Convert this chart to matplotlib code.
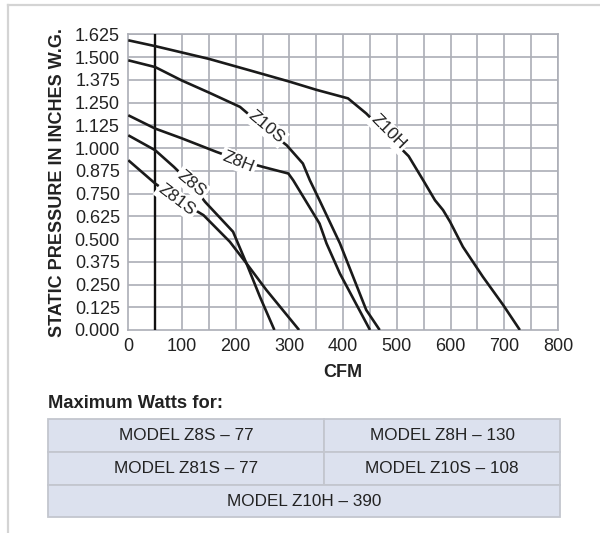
import matplotlib
matplotlib.use('Agg')
import matplotlib.pyplot as plt
from matplotlib.patches import Rectangle
from matplotlib.lines import Line2D
import numpy as np

plt.rcParams['font.family'] = ['Liberation Sans', 'DejaVu Sans']

# fan curves: CFM vs static pressure (in. W.G.)
z10h_cfm = [0, 50, 100, 150, 226, 300, 350, 409, 443, 480, 522, 549, 571, 586, 599, 623, 660, 698, 729]
z10h_sp = [1.592, 1.56, 1.525, 1.49, 1.427, 1.365, 1.32, 1.273, 1.19, 1.08, 0.955, 0.823, 0.713, 0.659,
           0.595, 0.457, 0.293, 0.137, 0.0]

z10s_cfm = [0, 50, 99, 150, 208, 250, 295, 325, 338, 356, 394, 443, 468]
z10s_sp = [1.482, 1.445, 1.372, 1.305, 1.226, 1.12, 1.015, 0.915, 0.823, 0.713, 0.476, 0.11, 0.0]

z8h_cfm = [0, 50, 99, 164, 210, 251, 298, 307, 356, 369, 394, 450]
z8h_sp = [1.18, 1.107, 1.054, 0.979, 0.93, 0.896, 0.86, 0.823, 0.585, 0.476, 0.31, 0.0]

z8s_cfm = [0, 50, 85, 118, 143, 195, 220, 245, 272]
z8s_sp = [1.07, 0.988, 0.896, 0.8, 0.704, 0.54, 0.366, 0.183, 0.0]

z81s_cfm = [0, 50, 90, 140, 189, 220, 257, 318]
z81s_sp = [0.933, 0.805, 0.72, 0.631, 0.485, 0.366, 0.22, 0.0]

curve_names = ['Z10H', 'Z10S', 'Z8H', 'Z8S', 'Z81S']
label_cfm = [484, 257, 205, 118, 90]
label_sp = [1.088, 1.116, 0.924, 0.805, 0.713]
label_rot = [-45, -40, -22, -40, -37]

y_ticks = np.arange(0, 1.626, 0.125)
x_ticks = list(range(0, 801, 100))

watts_rows = [['MODEL Z8S – 77', 'MODEL Z8H – 130'],
              ['MODEL Z81S – 77', 'MODEL Z10S – 108'],
              ['MODEL Z10H – 390']]

W, H = 600, 533
fig = plt.figure(figsize=(W / 100, H / 100), dpi=100)


def fx(px):
    return px / W


def fy(py):
    return 1 - py / H


# card border (top and left)
fig.add_artist(Line2D([fx(8), fx(600)], [fy(5), fy(5)], color='#d4d4d4', lw=1.6))
fig.add_artist(Line2D([fx(8), fx(8)], [fy(5), fy(533)], color='#d4d4d4', lw=1.6))

ax = fig.add_axes([fx(128.3), fy(330), fx(558) - fx(128.3), fy(34.3) - fy(330)])
ax.set_xlim(0, 800)
ax.set_ylim(0, 1.625)

grid_col = '#acaeb6'
for x in range(50, 801, 50):
    ax.axvline(x, color=grid_col, lw=1.2, zorder=1)
for y in y_ticks[1:]:
    ax.axhline(y, color=grid_col, lw=1.2, zorder=1)
for s in ax.spines.values():
    s.set_color(grid_col)
    s.set_linewidth(1.2)

ax.axvline(50, color='#111111', lw=1.7, zorder=3)

curves = [(z10h_cfm, z10h_sp), (z10s_cfm, z10s_sp), (z8h_cfm, z8h_sp),
          (z8s_cfm, z8s_sp), (z81s_cfm, z81s_sp)]
for cx, cy in curves:
    ax.plot(cx, cy, color='#1a1a1a', lw=1.9, zorder=4, solid_capstyle='butt')

for name, lx, ly, rot in zip(curve_names, label_cfm, label_sp, label_rot):
    ax.text(lx, ly, name, rotation=rot, ha='center', va='center', fontsize=12.5,
            color='#222222', zorder=5, rotation_mode='anchor',
            bbox=dict(facecolor='white', edgecolor='none', pad=1.5))

ax.set_xticks(x_ticks)
ax.set_yticks(y_ticks)
ax.set_yticklabels([f'{v:.3f}' for v in y_ticks])
ax.tick_params(length=0, labelsize=13, colors='#222222', pad=6)
ax.set_xlabel('CFM', fontsize=13, fontweight='bold', color='#222222', labelpad=6)
ax.set_ylabel('STATIC PRESSURE IN INCHES W.G.', fontsize=13, fontweight='bold',
              color='#222222', labelpad=6)

# max watts table
fig.text(fx(48), fy(404), 'Maximum Watts for:', fontsize=13.2, fontweight='bold',
         color='#222222', va='center', ha='left')

tbl_left, tbl_right, tbl_split = 48, 560, 324
row_edges = [419.3, 451.7, 485, 517.3]
fill = '#dce1ee'
edge = '#c3c6ce'
for r, row in enumerate(watts_rows):
    top, bot = row_edges[r], row_edges[r + 1]
    if len(row) == 2:
        spans = [(tbl_left, tbl_split), (tbl_split, tbl_right)]
    else:
        spans = [(tbl_left, tbl_right)]
    for (a, b), txt in zip(spans, row):
        fig.add_artist(Rectangle((fx(a), fy(bot)), fx(b) - fx(a), fy(top) - fy(bot),
                                 facecolor=fill, edgecolor=edge, lw=1.3))
        fig.text(fx((a + b) / 2), fy((top + bot) / 2), txt, fontsize=12.3,
                 color='#222222', ha='center', va='center')

fig.savefig('out.png', dpi=100)
